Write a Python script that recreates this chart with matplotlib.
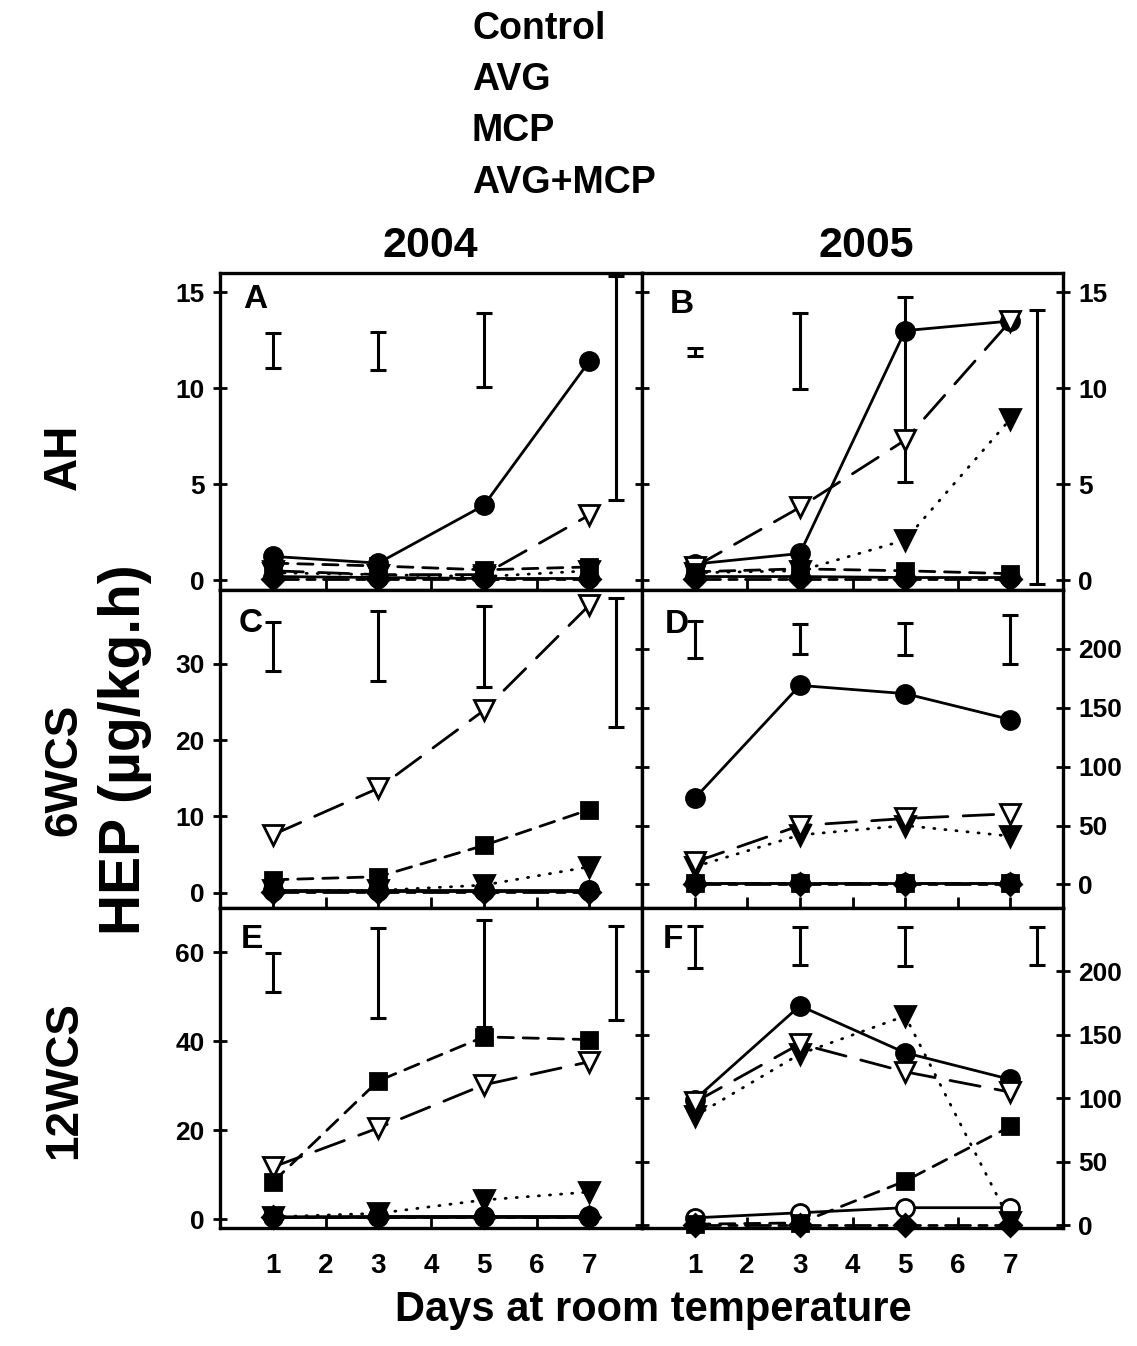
import matplotlib
matplotlib.use("Agg")
import matplotlib.pyplot as plt

# --- data -------------------------------------------------------------------
days = [1, 3, 5, 7]

# 2004 / AH
A_fcirc = [1.25, 0.9, 3.9, 11.4]
A_ocirc = [0.2, 0.15, 0.1, 0.1]
A_ftri = [0.4, 0.3, 0.2, 0.5]
A_otri = [0.5, 0.3, 0.3, 3.4]
A_fsq = [0.9, 0.75, 0.55, 0.7]
A_fdia = [0.05, 0.05, 0.05, 0.05]
A_bar_x = [1, 3, 5, 7.5]
A_bar_lo = [11.05, 10.95, 10.05, 4.2]
A_bar_hi = [12.9, 12.95, 13.9, 15.85]

# 2005 / AH
B_fcirc = [0.85, 1.4, 13.0, 13.5]
B_ocirc = [0.2, 0.2, 0.15, 0.15]
B_ftri = [0.4, 0.5, 2.1, 8.4]
B_otri = [0.7, 3.8, 7.3, 13.5]
B_fsq = [0.45, 0.6, 0.5, 0.35]
B_fdia = [0.05, 0.05, 0.05, 0.05]
B_bar_x = [1, 3, 5, 7.5]
B_bar_lo = [11.7, 9.95, 5.1, -0.2]
B_bar_hi = [12.1, 13.9, 14.75, 14.1]

# 2004 / 6WCS
C_fcirc = [0.3, 0.3, 0.3, 0.3]
C_ocirc = [0.2, 0.2, 0.2, 0.2]
C_ftri = [0.3, 0.3, 1.0, 3.4]
C_otri = [7.6, 13.7, 23.9, 37.7]
C_fsq = [1.7, 2.1, 6.2, 10.9]
C_fdia = [0.1, 0.1, 0.1, 0.1]
C_bar_x = [1, 3, 5, 7.5]
C_bar_lo = [29.1, 27.8, 27.0, 21.8]
C_bar_hi = [35.5, 37.0, 37.6, 38.7]

# 2005 / 6WCS
D_fcirc = [73, 169, 162, 140]
D_ocirc = [1, 1, 1, 1]
D_ftri = [15, 42, 50, 41]
D_otri = [19, 50, 56, 60]
D_fsq = [1, 1, 1, 1]
D_fdia = [0, 0, 0, 0]
D_bar_x = [1, 3, 5, 7]
D_bar_lo = [192, 196, 195, 187]
D_bar_hi = [224, 221, 222, 229]

# 2004 / 12WCS
E_fcirc = [0.5, 0.6, 0.6, 0.6]
E_ocirc = [0.4, 0.4, 0.4, 0.4]
E_ftri = [0.5, 1.3, 4.3, 6.1]
E_otri = [11.7, 20.5, 30.2, 35.4]
E_fsq = [8.3, 31.1, 41.0, 40.4]
E_fdia = [0.5, 0.5, 0.5, 0.5]
E_bar_x = [1, 3, 5, 7.5]
E_bar_lo = [51.2, 45.3, 43.3, 44.9]
E_bar_hi = [59.8, 65.6, 67.4, 66.0]

# 2005 / 12WCS
F_fcirc = [99, 173, 136, 115]
F_ocirc = [6, 10, 14, 14]
F_ftri = [86, 135, 165, 3]
F_otri = [97, 143, 121, 105]
F_fsq = [1, 2, 35, 78]
F_fdia = [0, 0, 0, 0]
F_bar_x = [1, 3, 5, 7.5]
F_bar_lo = [203, 205, 204, 205]
F_bar_hi = [236, 235, 235, 235]

legend_labels = ["Control", "AVG", "MCP", "AVG+MCP"]
years = ["2004", "2005"]
rows = ["AH", "6WCS", "12WCS"]

A_ticks = [0, 5, 10, 15]
C_ticks = [0, 10, 20, 30]
E_ticks = [0, 20, 40, 60]
D_ticks = [0, 50, 100, 150, 200]

plt.rcParams["font.family"] = ["Liberation Sans", "DejaVu Sans"]
plt.rcParams["font.weight"] = "bold"

W, H = 1137, 1346
fig = plt.figure(figsize=(W / 100, H / 100), dpi=100)


def box(x0, y0, x1, y1):
    return [x0 / W, 1 - y1 / H, (x1 - x0) / W, (y1 - y0) / H]


LW = 2.0
styles = [
    # marker, filled, linestyle, ms
    ("o", True, "-", 13),
    ("o", False, "-", 13),
    ("v", True, (0, (0.4, 3.6)), 14),
    ("v", False, (0, (11, 5.5)), 14),
    ("s", True, (0, (5.5, 3.5)), 11),
    ("D", True, (0, (9, 3, 3, 3)), 11),
]


def panel(ax, series, bar_x, bar_lo, bar_hi, ylim, letter, lx, ly):
    for (m, filled, ls, ms), ys in zip(styles, series):
        ax.plot(days, ys, linestyle=ls, color="black", lw=LW,
                marker=m, ms=ms, mfc="black" if filled else "white",
                mec="black", mew=2.0, dash_capstyle="round", clip_on=False,
                zorder=3)
    mid = [(lo + hi) / 2 for lo, hi in zip(bar_lo, bar_hi)]
    half = [(hi - lo) / 2 for lo, hi in zip(bar_lo, bar_hi)]
    ax.errorbar(bar_x, mid, yerr=half, fmt="none", ecolor="black",
                elinewidth=2.2, capsize=6, capthick=2.2, clip_on=False)
    ax.set_xlim(0, 8)
    ax.set_ylim(*ylim)
    ax.set_xticks(range(1, 8))
    ax.text(lx, ly, letter, transform=ax.transAxes, fontsize=24,
            fontweight="bold", ha="left", va="center")
    for s in ax.spines.values():
        s.set_linewidth(2.4)
    ax.tick_params(axis="x", direction="in", length=8, width=2.0,
                   labelbottom=False)


# left column 220-642, right column 642-1063; rows 273-590-908-1228
axA = fig.add_axes(box(220, 273, 642, 590))
axB = fig.add_axes(box(642, 273, 1063, 590))
axC = fig.add_axes(box(220, 590, 642, 908))
axD = fig.add_axes(box(642, 590, 1063, 908))
axE = fig.add_axes(box(220, 908, 642, 1228))
axF = fig.add_axes(box(642, 908, 1063, 1228))

panel(axA, [A_fcirc, A_ocirc, A_ftri, A_otri, A_fsq, A_fdia],
      A_bar_x, A_bar_lo, A_bar_hi, (-0.5, 16), "A", 0.055, 0.915)
panel(axB, [B_fcirc, B_ocirc, B_ftri, B_otri, B_fsq, B_fdia],
      B_bar_x, B_bar_lo, B_bar_hi, (-0.5, 16), "B", 0.065, 0.9)
panel(axC, [C_fcirc, C_ocirc, C_ftri, C_otri, C_fsq, C_fdia],
      C_bar_x, C_bar_lo, C_bar_hi, (-2, 39.7), "C", 0.045, 0.895)
panel(axD, [D_fcirc, D_ocirc, D_ftri, D_otri, D_fsq, D_fdia],
      D_bar_x, D_bar_lo, D_bar_hi, (-20, 250), "D", 0.055, 0.89)
panel(axE, [E_fcirc, E_ocirc, E_ftri, E_otri, E_fsq, E_fdia],
      E_bar_x, E_bar_lo, E_bar_hi, (-2, 70), "E", 0.05, 0.9)
panel(axF, [F_fcirc, F_ocirc, F_ftri, F_otri, F_fsq, F_fdia],
      F_bar_x, F_bar_lo, F_bar_hi, (-2, 250), "F", 0.05, 0.9)

for ax, ticks in [(axA, A_ticks), (axC, C_ticks), (axE, E_ticks)]:
    ax.set_yticks(ticks)
    ax.tick_params(axis="y", direction="inout", length=10, width=2.0,
                   labelsize=19, pad=6)
for ax, ticks in [(axB, A_ticks), (axD, D_ticks), (axF, D_ticks)]:
    ax.set_yticks(ticks)
    ax.tick_params(axis="y", direction="inout", length=10, width=2.0,
                   left=True, right=True, labelleft=False, labelright=True,
                   labelsize=19, pad=6)

for ax in (axE, axF):
    ax.tick_params(axis="x", labelbottom=True, labelsize=20, pad=18)

fig.text(653 / W, 1 - 1310 / H, "Days at room temperature", ha="center",
         va="center", fontsize=30, fontweight="bold")
fig.text(125 / W, 1 - 750 / H, "HEP (\u00b5g/kg.h)", rotation=90,
         ha="center", va="center", fontsize=41, fontweight="bold")
for name, yc in zip(rows, [457, 770, 1080]):
    fig.text(64 / W, 1 - yc / H, name, rotation=90, ha="center",
             va="center", fontsize=33, fontweight="bold")
for name, xc in zip(years, [430, 866]):
    fig.text(xc / W, 1 - 246 / H, name, ha="center", va="center",
             fontsize=31, fontweight="bold")
for name, yc in zip(legend_labels, [29, 80, 131, 183]):
    fig.text(472 / W, 1 - yc / H, name, ha="left", va="center",
             fontsize=27, fontweight="bold")

fig.savefig("out.png", dpi=100)
